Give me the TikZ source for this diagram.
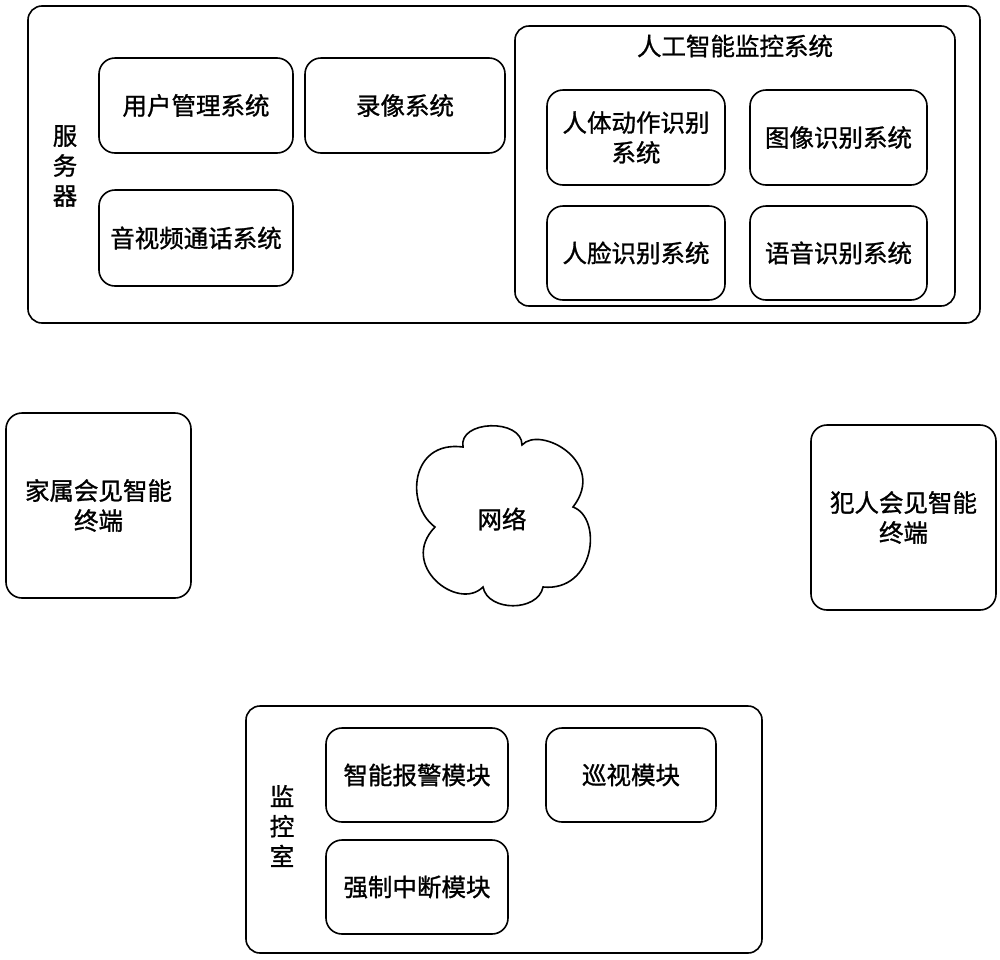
\documentclass[tikz,border=0pt]{standalone}
\usepackage{fontspec}
\setmainfont{Noto Sans CJK SC}[FakeBold=1.1]
\begin{document}
\begin{tikzpicture}[x=1pt,y=-1pt,
  every node/.style={font=\fontsize{24.5}{30}\selectfont, align=center, inner sep=0pt},
  outerbox/.style={draw, line width=1.6pt, rounded corners=14pt},
  box/.style={draw, line width=1.6pt, rounded corners=16pt},
  cloudline/.style={draw, line width=1.6pt, line join=miter},
  lbl/.style={font=\fontsize{24.5}{30}\selectfont, align=center}]
\useasboundingbox (0,0) rectangle (1000,959);
% server
\node[outerbox, minimum width=952pt, minimum height=317pt] (server) at (504,164.5) {};
\node[lbl] (serverlbl) at (65,166) {服\\务\\器};
\node[box, minimum width=194pt, minimum height=95pt] (um) at (196,105.5) {用户管理系统};
\node[box, minimum width=200pt, minimum height=95pt] (rec) at (405,105.5) {录像系统};
\node[box, minimum width=194pt, minimum height=96pt] (av) at (196,238) {音视频通话系统};
% AI
\node[outerbox, minimum width=440pt, minimum height=280pt] (ai) at (735,166) {};
\node[lbl] (aitit) at (735,46) {人工智能监控系统};
\node[box, minimum width=178pt, minimum height=95pt] (act) at (636,137.5) {人体动作识别\\系统};
\node[box, minimum width=177pt, minimum height=95pt] (img) at (838.5,137.5) {图像识别系统};
\node[box, minimum width=178pt, minimum height=94pt] (face) at (636,253) {人脸识别系统};
\node[box, minimum width=177pt, minimum height=94pt] (voice) at (838.5,253) {语音识别系统};
% terminals
\node[box, minimum width=185pt, minimum height=185pt] (fam) at (98.5,505.5) {家属会见智能\\终端};
\node[box, minimum width=185pt, minimum height=185pt] (pri) at (903.5,517.5) {犯人会见智能\\终端};
% network cloud
\path[cloudline] (463,447)
  .. controls (458,420) and (522,418) .. (522,445)
  .. controls (540,425) and (608,462) .. (573,507)
  .. controls (603,518) and (595,592) .. (543,587)
  .. controls (538,612) and (488,612) .. (483,587)
  .. controls (458,612) and (398,565) .. (435,527)
  .. controls (405,505) and (410,440) .. cycle;
\node (net) at (502,519) {网络};
% monitor room
\node[outerbox, minimum width=516pt, minimum height=247pt] (mon) at (504,829.5) {};
\node[lbl] (monlbl) at (282,826) {监\\控\\室};
\node[box, minimum width=182pt, minimum height=94pt] (alarm) at (417,775) {智能报警模块};
\node[box, minimum width=170pt, minimum height=94pt] (patrol) at (631,775) {巡视模块};
\node[box, minimum width=182pt, minimum height=94pt] (intr) at (417,887) {强制中断模块};
\end{tikzpicture}
\end{document}
